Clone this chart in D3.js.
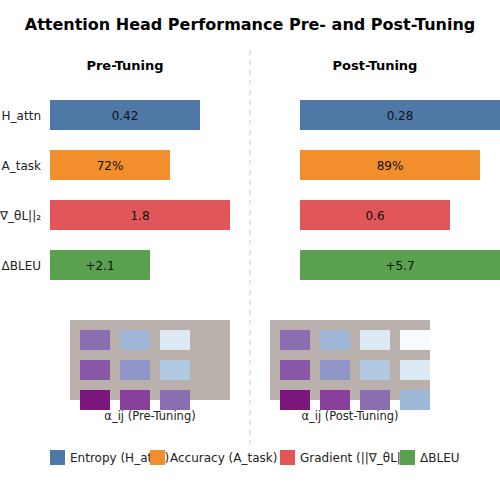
<!DOCTYPE html><html><head><meta charset="utf-8"><script src="https://cdn.jsdelivr.net/npm/d3@7"></script>
<style>body{margin:0;background:#fff}text{font-family:"DejaVu Sans",sans-serif}</style></head><body><svg id="c" width="500" height="500"></svg>
<script>
const metrics=["H_attn","A_task","||∇_θL||₂","ΔBLEU"];
const legendNames=["Entropy (H_attn)","Accuracy (A_task)","Gradient (||∇_θL||₂)","ΔBLEU"];
const colors=["#4e79a7","#f28e2b","#e15759","#59a14f"];
const preScore=[0.75,0.6,0.9,0.5];
const postScore=[1.0,0.9,0.75,1.0];
const preLabels=["0.42","72%","1.8","+2.1"];
const postLabels=["0.28","89%","0.6","+5.7"];
const preAlpha=[[0.62,0.38,0.13],[0.68,0.5,0.3],[0.87,0.75,0.62]];
const postAlpha=[[0.62,0.38,0.13,0],[0.68,0.5,0.3,0.13],[0.87,0.75,0.62,0.38]];
const svg=d3.select("#c");
svg.append("text").attr("x",250).attr("y",30).attr("text-anchor","middle").attr("font-size",16).attr("font-weight","bold").text("Attention Head Performance Pre- and Post-Tuning");
svg.append("line").attr("x1",250).attr("x2",250).attr("y1",50).attr("y2",445).attr("stroke","#ddd").attr("stroke-dasharray","5,5").attr("stroke-width",1.5);
const y=d3.scaleBand().domain(metrics).range([90,290]).paddingInner(0.4).paddingOuter(0.2);
const color=d3.scaleSequential(d3.interpolateBuPu).domain([0,1]);
svg.append("defs").append("clipPath").attr("id","pc").append("rect").attr("x",270).attr("y",300).attr("width",160).attr("height",150);
function panel(x0,title,scores,labels,alpha,hx,htitle,clip){
  svg.append("text").attr("x",x0+75).attr("y",70).attr("text-anchor","middle").attr("font-size",13).attr("font-weight","bold").text(title);
  const x=d3.scaleLinear().domain([0,1]).range([x0,x0+200]);
  metrics.forEach((m,i)=>{
    svg.append("rect").attr("x",x(0)).attr("y",y(m)).attr("width",x(scores[i])-x(0)).attr("height",30).attr("fill",colors[i]);
    svg.append("text").attr("x",(x(0)+x(scores[i]))/2).attr("y",y(m)+19.5).attr("text-anchor","middle").attr("font-size",12).attr("fill","#111").text(labels[i]);
  });
  const g=svg.append("g"); if(clip) g.attr("clip-path","url(#pc)");
  g.append("rect").attr("x",hx).attr("y",320).attr("width",160).attr("height",80).attr("fill","#bab0ac");
  const cx=d3.scaleLinear().domain([0,1]).range([hx+10,hx+50]);
  const cy=d3.scaleLinear().domain([0,1]).range([330,360]);
  alpha.forEach((row,r)=>row.forEach((v,c)=>{
    g.append("rect").attr("x",cx(c)).attr("y",cy(r)).attr("width",30).attr("height",20).attr("fill",color(v));
  }));
  svg.append("text").attr("x",hx+80).attr("y",420).attr("text-anchor","middle").attr("font-size",11.5).attr("fill","#222").text(htitle);
}
panel(50,"Pre-Tuning",preScore,preLabels,preAlpha,70,"α_ij (Pre-Tuning)",false);
panel(300,"Post-Tuning",postScore,postLabels,postAlpha,270,"α_ij (Post-Tuning)",true);
metrics.forEach(m=>svg.append("text").attr("x",41).attr("y",y(m)+19.5).attr("text-anchor","end").attr("font-size",12).attr("fill","#222").text(m));
const lx=[50,150,280,400];
legendNames.forEach((n,i)=>{
  svg.append("rect").attr("x",lx[i]).attr("y",450).attr("width",15).attr("height",15).attr("fill",colors[i]);
  svg.append("text").attr("x",lx[i]+20).attr("y",462).attr("font-size",12).attr("fill","#222").text(n);
});
</script></body></html>
